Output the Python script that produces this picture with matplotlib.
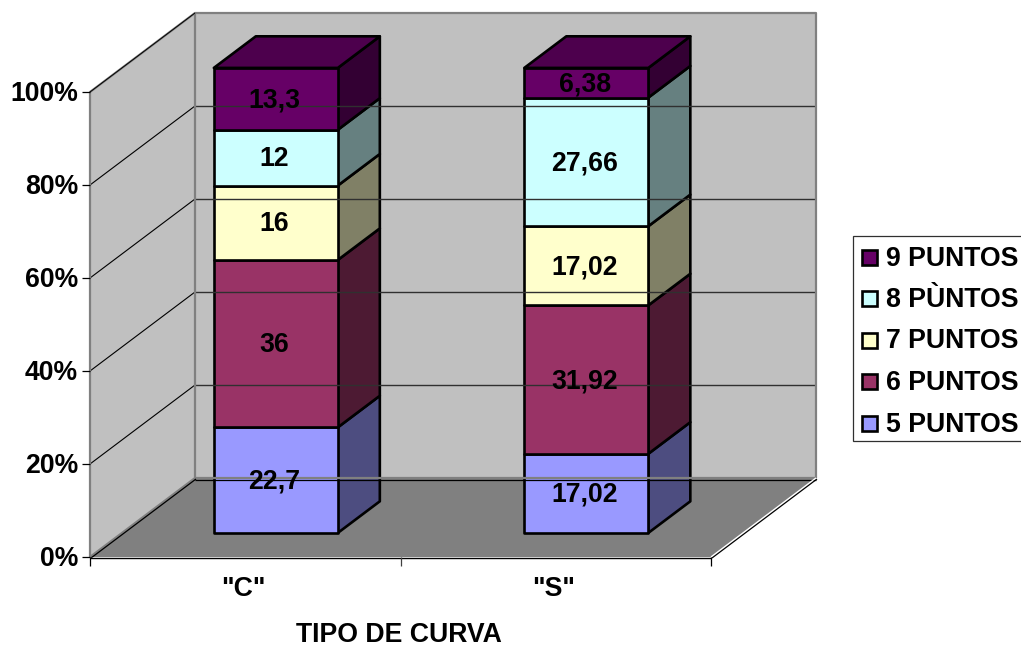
"""
Barras apiladas 100 % con efecto 3D por tipo de curva.
"""
import matplotlib
matplotlib.use("Agg")
import matplotlib.pyplot as plt
from matplotlib.patches import Polygon, Rectangle
from matplotlib.lines import Line2D

W, H = 1021, 647

categories = ['"C"', '"S"']
series_names = ["5 PUNTOS", "6 PUNTOS", "7 PUNTOS", "8 PÙNTOS", "9 PUNTOS"]
values_c = [22.7, 36, 16, 12, 13.3]
values_s = [17.02, 31.92, 17.02, 27.66, 6.38]
value_labels_c = ["22,7", "36", "16", "12", "13,3"]
value_labels_s = ["17,02", "31,92", "17,02", "27,66", "6,38"]
percent_ticks = [0, 20, 40, 60, 80, 100]

front_colors = ["#9999FF", "#993366", "#FFFFCC", "#CCFFFF", "#660066"]
side_colors = ["#4D4D80", "#4D1A33", "#808066", "#668080", "#330033"]
top_color = "#4D004D"
GRID = "#808080"

# Geometria de la proyeccion, en pixeles
X0, X1 = 90, 711
Y0, PLOT_H = 557, 465
DX, DY = 105, -79
BAR_W = 124
BAR_SHIFT = -2.5 / (X1 - X0)
BAR_FRONT = 0.315  # fraccion de fondo antes de la cara frontal
BAR_DEPTH = 0.40   # fraccion de fondo que ocupa la barra
BAR_DROP = 0.8     # ajuste vertical de las barras
FS = 19.2


def project(x_frac, pct, depth=0.0):
    """Pasa (fraccion de eje x, porcentaje, fondo 0-1) a pixeles."""
    return (X0 + x_frac * (X1 - X0) + depth * DX,
            Y0 - pct / 100 * PLOT_H + depth * DY)


def bar_point(x_frac, pct, depth):
    px, py = project(x_frac, pct, depth)
    return px, py + BAR_DROP


def polyline(pts, **kw):
    ax.add_line(Line2D([q[0] for q in pts], [q[1] for q in pts],
                       solid_capstyle="butt", **kw))


fig = plt.figure(figsize=(W / 100, H / 100), dpi=100)
ax = fig.add_axes([0, 0, 1, 1])
ax.set_xlim(0, W)
ax.set_ylim(H, 0)
ax.axis("off")

edge = {"edgecolor": "black", "linewidth": 1.9, "joinstyle": "round"}
bold = {"fontfamily": "Liberation Sans", "fontweight": "bold", "color": "black"}

# Paredes y suelo
ax.add_patch(Polygon([project(0, 0), project(0, 0, 1), project(0, 100, 1), project(0, 100)],
                     facecolor="#C0C0C0", edgecolor="none"))
ax.add_patch(Polygon([project(0, 0, 1), project(1, 0, 1), project(1, 100, 1), project(0, 100, 1)],
                     facecolor="#C0C0C0", edgecolor="none"))
ax.add_patch(Polygon([project(0, 0), project(1, 0), project(1, 0, 1), project(0, 0, 1)],
                     facecolor="#808080", edgecolor="none"))

# Rejilla horizontal sobre las paredes
for p in percent_ticks[1:-1]:
    polyline([project(0, p), project(0, p, 1)], color="black", linewidth=0.8)
    polyline([project(0, p, 1), project(1, p, 1)], color="#303030", linewidth=1.0)

# Contorno gris de las paredes
polyline([project(0, 0), project(0, 100), project(0, 100, 1), project(1, 100, 1), project(1, 0, 1)],
         color=GRID, linewidth=1.6)
polyline([project(0, 0), project(0, 0, 1), project(0, 100, 1)], color=GRID, linewidth=1.6)
polyline([project(0, 0, 1), project(1, 0, 1)], color=GRID, linewidth=1.6)

# Lineas negras del suelo y del borde superior
polyline([project(0, 100), project(0, 100, 1)], color="black", linewidth=0.7)
polyline([(q[0] + 1, q[1] + 1) for q in (project(0, 0), project(0, 0, 1))], color="black", linewidth=0.9)
polyline([(q[0], q[1] + 1.5) for q in (project(0, 0, 1), project(1, 0, 1))], color="black", linewidth=0.9)
polyline([project(1, 0), project(1, 0, 1)], color="white", linewidth=1.0)
polyline([(q[0] + 1, q[1] + 1) for q in (project(1, 0), project(1, 0, 1))], color="black", linewidth=0.9)

# Eje horizontal y marcas
polyline([(X0, Y0 + 0.5), (X1, Y0 + 0.5)], color="white", linewidth=0.9)
polyline([(X0, Y0 + 1), (X1, Y0 + 1)], color="black", linewidth=1.0)
for p in percent_ticks:
    px, py = project(0, p)
    polyline([(px - 8, py), (px, py)], color="black", linewidth=0.9)
    ax.text(px - 12, py + 2, f"{p}%", ha="right", va="center", fontsize=FS, **bold)
for i in range(len(categories) + 1):
    px, py = project(i / len(categories), 0)
    polyline([(px, py), (px, py + 9)], color="black" if i != 1 else "#404040", linewidth=0.9)

# Barras apiladas
for i, (vals, labels) in enumerate(zip([values_c, values_s], [value_labels_c, value_labels_s])):
    left = (i + 0.5) / len(categories) - BAR_W / 2 / (X1 - X0) + BAR_SHIFT
    right = left + BAR_W / (X1 - X0)
    d0, d1 = BAR_FRONT, BAR_FRONT + BAR_DEPTH
    base = 0.0
    for val, txt, fc, sc in zip(vals, labels, front_colors, side_colors):
        top = base + val
        ax.add_patch(Polygon([bar_point(right, base, d0), bar_point(right, base, d1),
                              bar_point(right, top, d1), bar_point(right, top, d0)],
                             facecolor=sc, **edge))
        ax.add_patch(Polygon([bar_point(left, base, d0), bar_point(right, base, d0),
                              bar_point(right, top, d0), bar_point(left, top, d0)],
                             facecolor=fc, **edge))
        cx, cy = bar_point((left + right) / 2, (base + top) / 2, d0)
        ax.text(cx - 1.5, cy + 1.5, txt, ha="center", va="center", fontsize=FS, **bold)
        base = top
    ax.add_patch(Polygon([bar_point(left, base, d0), bar_point(right, base, d0),
                          bar_point(right, base, d1), bar_point(left, base, d1)],
                         facecolor=top_color, **edge))
    lx, ly = project((i + 0.5) / len(categories), 0)
    ax.text(lx - 2, ly + 32, categories[i], ha="center", va="center", fontsize=FS, **bold)

ax.text(399, 635.5, "TIPO DE CURVA", ha="center", va="center", fontsize=FS, **bold)

# Leyenda
ax.add_patch(Rectangle((853, 236), 175, 205, facecolor="white", edgecolor="#303030", linewidth=0.9))
for j, (name, fc) in enumerate(zip(series_names, front_colors)):
    ly = 423 - j * 41.5
    ax.add_patch(Rectangle((862, ly - 7.5), 15, 15, facecolor=fc, edgecolor="black", linewidth=1.9))
    ax.text(886, ly + 1.5, name, ha="left", va="center", fontsize=FS, **bold)

fig.savefig("out.png", dpi=100, facecolor="white")
